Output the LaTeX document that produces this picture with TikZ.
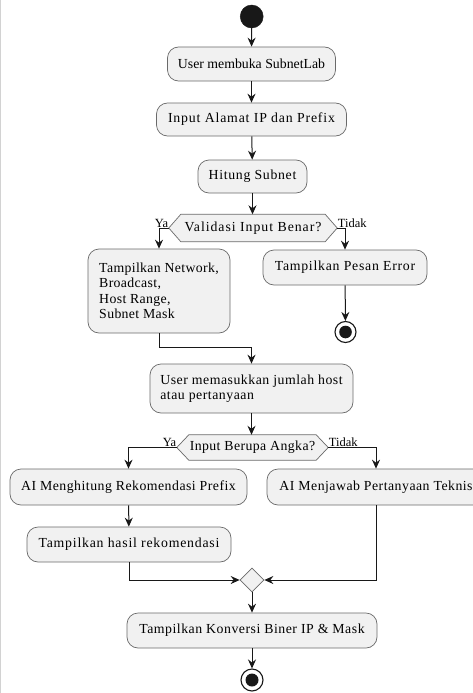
\documentclass[tikz,border=0pt]{standalone}
\usepackage{fontspec}
\setmainfont{Liberation Serif}
\usetikzlibrary{arrows.meta,shapes.geometric,backgrounds,calc}
\definecolor{boxfill}{HTML}{F1F1F1}
\definecolor{boxline}{HTML}{6A6A6A}
\definecolor{linec}{HTML}{181818}
\newcommand{\lsp}[2]{{\addfontfeatures{LetterSpace=#1}#2}}
\tikzset{
  act/.style={draw=boxline, line width=0.7pt, fill=boxfill, rounded corners=11pt,
    inner sep=0pt, font=\fontsize{13.8}{15.5}\selectfont, align=center},
  actl/.style={act, align=left},
  hexn/.style={inner sep=0pt, font=\fontsize{13.8}{15.5}\selectfont},
  hexd/.style={draw=boxline, line width=0.7pt, fill=boxfill},
  flow/.style={draw=linec, line width=1pt, -{Stealth[length=9pt,width=8pt,inset=3pt]}},
  lbl/.style={font=\fontsize{12.5}{14}\selectfont, inner sep=0.5pt},
  startc/.style={circle, fill=linec, draw=linec, minimum size=23pt, inner sep=0pt},
  endc/.style={circle, fill=white, draw=linec, line width=1.1pt, minimum size=21pt, inner sep=0pt},
  mergen/.style={diamond, draw=boxline, line width=0.7pt, fill=boxfill, minimum width=24pt, minimum height=24pt, inner sep=0pt},
}
\begin{document}
\begin{tikzpicture}[x=1pt,y=1pt]
\useasboundingbox (0,0) rectangle (473,-693);

% nodes
\node[startc] (st) at (251.7,-16.5) {};
\node[act, minimum width=168pt, minimum height=34pt] (b1) at (251.5,-64) {\lsp{0}{User membuka SubnetLab}};
\node[act, minimum width=190pt, minimum height=33pt] (b2) at (251.5,-119.5) {\lsp{6}{Input Alamat IP dan Prefix}};
\node[act, minimum width=109pt, minimum height=33pt] (b3) at (252.5,-176.5) {\lsp{5}{Hitung Subnet}};
\node[hexn, minimum width=168pt, minimum height=27pt] (h1) at (253,-228) {\lsp{7}{Validasi Input Benar?}};
\node[actl, minimum width=142pt, minimum height=84pt] (bNet) at (159,-291) {\lsp{2.5}{Tampilkan Network,}\\\lsp{2.5}{Broadcast,}\\\lsp{2.5}{Host Range,}\\\lsp{2.5}{Subnet Mask}};
\node[act, minimum width=164pt, minimum height=35pt] (bErr) at (345,-267.5) {\lsp{5.4}{Tampilkan Pesan Error}};
\node[endc] (e1) at (345.5,-332) {};
\fill[linec] (e1.center) circle (6.3pt);
\node[actl, minimum width=203pt, minimum height=49pt] (b5) at (251.5,-388.5) {\lsp{3.7}{User memasukkan jumlah host}\\\lsp{3.7}{atau pertanyaan}};
\node[hexn, minimum width=151pt, minimum height=25pt] (h2) at (252.5,-447.5) {\lsp{3}{Input Berupa Angka?}};
\node[act, minimum width=237pt, minimum height=36pt] (bAI) at (128.5,-487) {\lsp{3.5}{AI Menghitung Rekomendasi Prefix}};
\node[act, minimum width=218pt, minimum height=36pt] (bTek) at (376,-487) {\lsp{3.5}{AI Menjawab Pertanyaan Teknis}};
\node[act, minimum width=204pt, minimum height=35pt] (bHas) at (129,-544.5) {\lsp{5.6}{Tampilkan hasil rekomendasi}};
\node[mergen] (mg) at (252,-580) {};
\node[act, minimum width=250pt, minimum height=35pt] (bKon) at (252,-630.5) {\lsp{3.7}{Tampilkan Konversi Biner IP \& Mask}};
\node[endc, minimum size=22pt] (e2) at (252,-680) {};
\fill[linec] (e2.center) circle (6.5pt);

% background and hexagons
\begin{scope}[on background layer]
\fill[white] (0,0) rectangle (473,-693);
\draw[gray!35, line width=0.8pt] (0.5,0) -- (0.5,-693);
\draw[hexd] ([xshift=12pt]h1.north west) -- ([xshift=-12pt]h1.north east) -- (h1.east) -- ([xshift=-12pt]h1.south east) -- ([xshift=12pt]h1.south west) -- (h1.west) -- cycle;
\draw[hexd] ([xshift=12pt]h2.north west) -- ([xshift=-12pt]h2.north east) -- (h2.east) -- ([xshift=-12pt]h2.south east) -- ([xshift=12pt]h2.south west) -- (h2.west) -- cycle;
\end{scope}

% labels
\node[lbl, anchor=base east] (ya1) at ([yshift=1pt]h1.west) {Ya};
\node[lbl, anchor=base west] (td1) at ([yshift=1pt]h1.east) {Tidak};
\node[lbl, anchor=base east] (ya2) at ([yshift=1pt]h2.west) {Ya};
\node[lbl, anchor=base west] (td2) at ([yshift=1pt]h2.east) {Tidak};

% connectors
\draw[flow] (st) -- (b1);
\draw[flow] (b1) -- (b2);
\draw[flow] (b2) -- (b3);
\draw[flow] (b3.south) -- (b3.south |- h1.north);
\draw[flow] (h1.west) -| (bNet.north);
\draw[flow] (h1.east) -| (bErr.north);
\draw[flow] (bErr) -- (e1);
\coordinate (j1) at (159,-347);
\draw[flow] (bNet.south) -- (j1) -| (b5.north);
\draw[flow] (b5.south) -- (b5.south |- h2.north);
\draw[flow] (h2.west) -| (bAI.north);
\draw[flow] (h2.east) -| (bTek.north);
\draw[flow] (bAI) -- (bHas);
\draw[flow] (bHas.south) |- (mg.west);
\draw[flow] (bTek.south) |- (mg.east);
\draw[flow] (mg) -- (bKon);
\draw[flow] (bKon) -- (e2);
\end{tikzpicture}
\end{document}
